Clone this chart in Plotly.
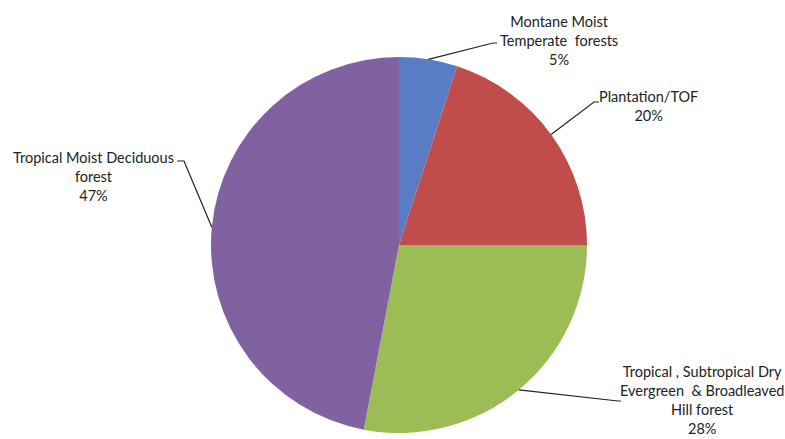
import math
import plotly.graph_objects as go

# ---- data ----
categories = [
    "Montane Moist<br>Temperate  forests",
    "Plantation/TOF",
    "Tropical , Subtropical Dry<br>Evergreen  & Broadleaved<br>Hill forest",
    "Tropical Moist Deciduous<br>forest",
]
values = [5, 20, 28, 47]
colors = ["#5A7CC4", "#C04D4B", "#9CBD56", "#8162A1"]

# ---- layout constants (pixels) ----
W, H = 785, 439
CX, CY, R = 399, 245, 188

# label text centres and leader elbow/end points (pixels)
label_pos = [(559, 40), (648, 106), (702, 400), (93, 176)]
elbows = [(493, 43), (594, 102), (618, 401), (184, 161)]
ends = [(497, 43), (599, 102), (621, 401), (177, 161)]


def px(x):
    return x / W


def py(y):
    return 1 - y / H


fig = go.Figure(go.Pie(
    labels=[c.replace("<br>", " ") for c in categories],
    values=values,
    sort=False,
    direction="clockwise",
    rotation=0,
    marker=dict(colors=colors, line=dict(width=0)),
    textinfo="none",
    hoverinfo="label+percent",
    showlegend=False,
    domain=dict(x=[px(CX - R), px(CX + R)], y=[py(CY + R), py(CY - R)]),
))

total = sum(values)
cum = 0
shapes = []
annotations = []
for cat, v, (lx, ly), (ex, ey), (fx, fy) in zip(categories, values, label_pos, elbows, ends):
    mid = (cum + v / 2) / total * 2 * math.pi
    cum += v
    ax = CX + R * math.sin(mid)
    ay = CY - R * math.cos(mid)
    shapes.append(dict(type="path", xref="paper", yref="paper",
                       path=f"M {px(ax)},{py(ay)} L {px(ex)},{py(ey)} L {px(fx)},{py(fy)}",
                       line=dict(color="#222222", width=1.2)))
    pct = round(v / total * 100)
    annotations.append(dict(x=px(lx), y=py(ly), xref="paper", yref="paper",
                            text=f"{cat}<br>{pct}%", showarrow=False,
                            xanchor="center", yanchor="middle", align="center",
                            font=dict(family="Lato", size=14.5, color="#222222")))

fig.update_layout(
    width=W, height=H,
    margin=dict(l=0, r=0, t=0, b=0),
    paper_bgcolor="white",
    plot_bgcolor="white",
    shapes=shapes,
    annotations=annotations,
)

fig.write_html("out.html", config={"displayModeBar": False},
               post_script="document.body.style.margin='0';")
